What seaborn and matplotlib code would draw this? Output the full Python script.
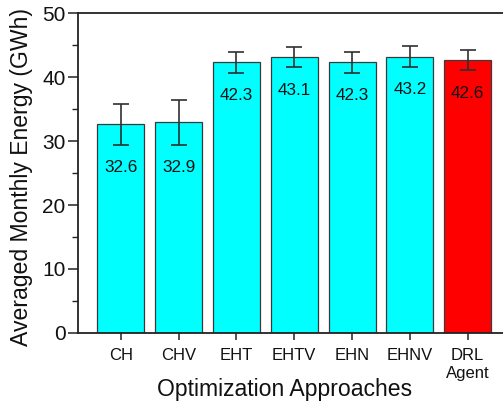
import matplotlib
matplotlib.use("Agg")
import matplotlib.pyplot as plt
import seaborn as sns
import pandas as pd
from matplotlib.ticker import MultipleLocator

categories = ["CH", "CHV", "EHT", "EHTV", "EHN", "EHNV", "DRL\nAgent"]
values = [32.6, 32.9, 42.3, 43.1, 42.3, 43.2, 42.6]
errors = [3.2, 3.45, 1.6, 1.6, 1.6, 1.6, 1.55]
labels = ["32.6", "32.9", "42.3", "43.1", "42.3", "43.2", "42.6"]
colors = ["#00FFFF"] * 6 + ["#FF0000"]

sns.set_theme(style="white")
plt.rcParams['font.family'] = ['Liberation Sans', 'DejaVu Sans']

df = pd.DataFrame({"cat": categories, "val": values})

fig = plt.figure(figsize=(5.03, 4.07), dpi=100)
W, H = 503, 407
ax = fig.add_axes([78 / W, (H - 333) / H, (W - 78) / W, (333 - 13) / H])

sns.barplot(data=df, x="cat", y="val", hue="cat", palette=colors, legend=False,
            width=0.81, edgecolor="#3a3a3a", linewidth=0.9, saturation=1, ax=ax)
ax.errorbar(range(len(values)), values, yerr=errors, fmt="none", ecolor="#303030",
            elinewidth=1.2, capsize=6, capthick=1.2, zorder=5)

for i, (v, e, t) in enumerate(zip(values, errors, labels)):
    ax.text(i, v - e - 3.6, t, ha="center", va="center", fontsize=12.3, color="#111111")

ax.set_ylim(0, 50)
ax.set_xlim(-0.74, 6.61)
ax.yaxis.set_major_locator(MultipleLocator(10))
ax.yaxis.set_minor_locator(MultipleLocator(5))
ax.tick_params(axis="y", which="major", direction="out", length=7, width=1.1,
               labelsize=15, pad=2, left=True, color="#222222", labelcolor="#111111")
ax.tick_params(axis="y", which="minor", direction="out", length=4, width=1.0,
               left=True, color="#222222")
ax.tick_params(axis="x", which="major", direction="out", length=5, width=1.1,
               labelsize=12, pad=6, bottom=True, color="#222222", labelcolor="#111111")

for s in ["left", "bottom", "top"]:
    ax.spines[s].set_color("#222222")
    ax.spines[s].set_linewidth(1.3)
ax.spines["right"].set_visible(False)

ax.set_xlabel("Optimization Approaches", fontsize=16.6, color="#111111")
ax.xaxis.set_label_coords(0.486, -0.14)
ax.set_ylabel("Averaged Monthly Energy (GWh)", fontsize=16.6, labelpad=6, color="#111111")
ax.yaxis.set_label_coords(-0.105, 0.486)

fig.savefig("out.png", dpi=100)
